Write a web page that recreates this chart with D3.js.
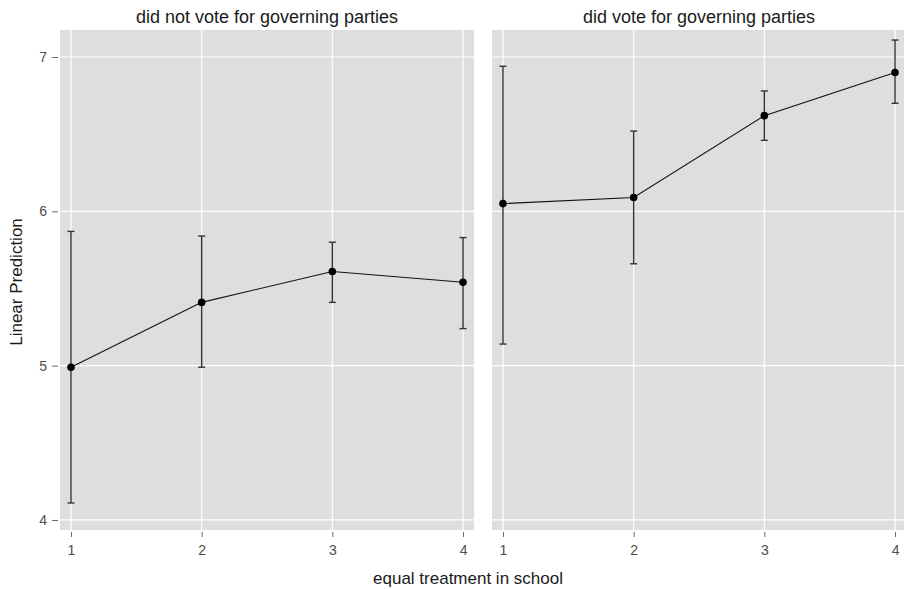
<!DOCTYPE html>
<html>
<head>
<meta charset="utf-8">
<script src="https://cdn.jsdelivr.net/npm/d3@7"></script>
<style>
  html, body { margin: 0; padding: 0; background: #fff; }
  svg { display: block; font-family: "Liberation Sans", Arial, sans-serif; }
</style>
</head>
<body>
<svg id="chart" width="904" height="589"></svg>
<script>
// ---- data ----
const categories = [1, 2, 3, 4];
const panelTitles = ["did not vote for governing parties", "did vote for governing parties"];
const notVoteMean = [4.99, 5.41, 5.61, 5.54];
const notVoteLow  = [4.11, 4.99, 5.41, 5.24];
const notVoteHigh = [5.87, 5.84, 5.80, 5.83];
const voteMean = [6.05, 6.09, 6.62, 6.90];
const voteLow  = [5.14, 5.66, 6.46, 6.70];
const voteHigh = [6.94, 6.52, 6.78, 7.11];
const yTicks = [4, 5, 6, 7];
const yLabel = "Linear Prediction";
const xLabel = "equal treatment in school";

const series = [
  { title: panelTitles[0], mean: notVoteMean, low: notVoteLow, high: notVoteHigh },
  { title: panelTitles[1], mean: voteMean, low: voteLow, high: voteHigh }
];

const svg = d3.select("#chart");
const plotTop = 30, plotBottom = 530;
const panelRanges = [[60, 474], [492, 906]];

const y = d3.scaleLinear().domain([3.935, 7.175]).range([plotBottom, plotTop]);

series.forEach((s, i) => {
  const [x0, x1] = panelRanges[i];
  const x = d3.scaleLinear().domain([0.916, 4.084]).range([x0, x1]);
  const g = svg.append("g");

  g.append("rect")
    .attr("x", x0).attr("y", plotTop)
    .attr("width", x1 - x0).attr("height", plotBottom - plotTop)
    .attr("fill", "#dedede");

  // grid
  g.selectAll(".gy").data(yTicks).enter().append("line")
    .attr("x1", x0).attr("x2", x1)
    .attr("y1", d => y(d)).attr("y2", d => y(d))
    .attr("stroke", "#fff").attr("stroke-width", 1.2);
  g.selectAll(".gx").data(categories).enter().append("line")
    .attr("x1", d => x(d)).attr("x2", d => x(d))
    .attr("y1", plotTop).attr("y2", plotBottom)
    .attr("stroke", "#fff").attr("stroke-width", 1.2);

  // x axis
  const xAxis = d3.axisBottom(x).tickValues(categories).tickFormat(d3.format("d"))
    .tickSize(5).tickPadding(8);
  const xa = g.append("g").attr("transform", `translate(0,${plotBottom + 2})`).call(xAxis);
  xa.select(".domain").remove();
  xa.selectAll(".tick line").attr("stroke", "#666");
  xa.selectAll(".tick text").attr("fill", "#4d4d4d").attr("font-size", 14)
    .attr("font-family", "Liberation Sans, Arial, sans-serif");

  // y axis (first panel only)
  if (i === 0) {
    const yAxis = d3.axisLeft(y).tickValues(yTicks).tickFormat(d3.format("d"))
      .tickSize(6).tickPadding(5);
    const ya = g.append("g").attr("transform", `translate(${x0 - 2},0)`).call(yAxis);
    ya.select(".domain").remove();
    ya.selectAll(".tick line").attr("stroke", "#666");
    ya.selectAll(".tick text").attr("fill", "#4d4d4d").attr("font-size", 14)
      .attr("font-family", "Liberation Sans, Arial, sans-serif");
  }

  // title
  g.append("text")
    .attr("x", (x0 + x1) / 2).attr("y", 23)
    .attr("text-anchor", "middle")
    .attr("font-size", 18).attr("fill", "#1a1a1a")
    .text(s.title);

  // clip to panel
  const clipId = "clip" + i;
  svg.append("clipPath").attr("id", clipId).append("rect")
    .attr("x", x0).attr("y", plotTop).attr("width", x1 - x0).attr("height", plotBottom - plotTop);
  const marks = g.append("g").attr("clip-path", `url(#${clipId})`);

  const pts = categories.map((c, j) => ({ c, m: s.mean[j], lo: s.low[j], hi: s.high[j] }));

  // error bars
  marks.selectAll(".eb").data(pts).enter().append("line")
    .attr("x1", d => x(d.c)).attr("x2", d => x(d.c))
    .attr("y1", d => y(d.lo)).attr("y2", d => y(d.hi))
    .attr("stroke", "#333").attr("stroke-width", 1.4);
  ["lo", "hi"].forEach(k => {
    marks.selectAll(".cap" + k).data(pts).enter().append("line")
      .attr("x1", d => x(d.c) - 3.5).attr("x2", d => x(d.c) + 3.5)
      .attr("y1", d => y(d[k])).attr("y2", d => y(d[k]))
      .attr("stroke", "#333").attr("stroke-width", 1.4);
  });

  // line
  marks.append("path")
    .datum(pts)
    .attr("d", d3.line().x(d => x(d.c)).y(d => y(d.m)))
    .attr("fill", "none").attr("stroke", "#111").attr("stroke-width", 1.1);

  // points
  marks.selectAll(".pt").data(pts).enter().append("circle")
    .attr("cx", d => x(d.c)).attr("cy", d => y(d.m)).attr("r", 3.8)
    .attr("fill", "#000");
});

// axis titles
svg.append("text")
  .attr("x", 468).attr("y", 584)
  .attr("text-anchor", "middle").attr("font-size", 17).attr("fill", "#1a1a1a")
  .text(xLabel);
svg.append("text")
  .attr("transform", `translate(22,282) rotate(-90)`)
  .attr("text-anchor", "middle").attr("font-size", 17).attr("fill", "#1a1a1a")
  .text(yLabel);
</script>
</body>
</html>
